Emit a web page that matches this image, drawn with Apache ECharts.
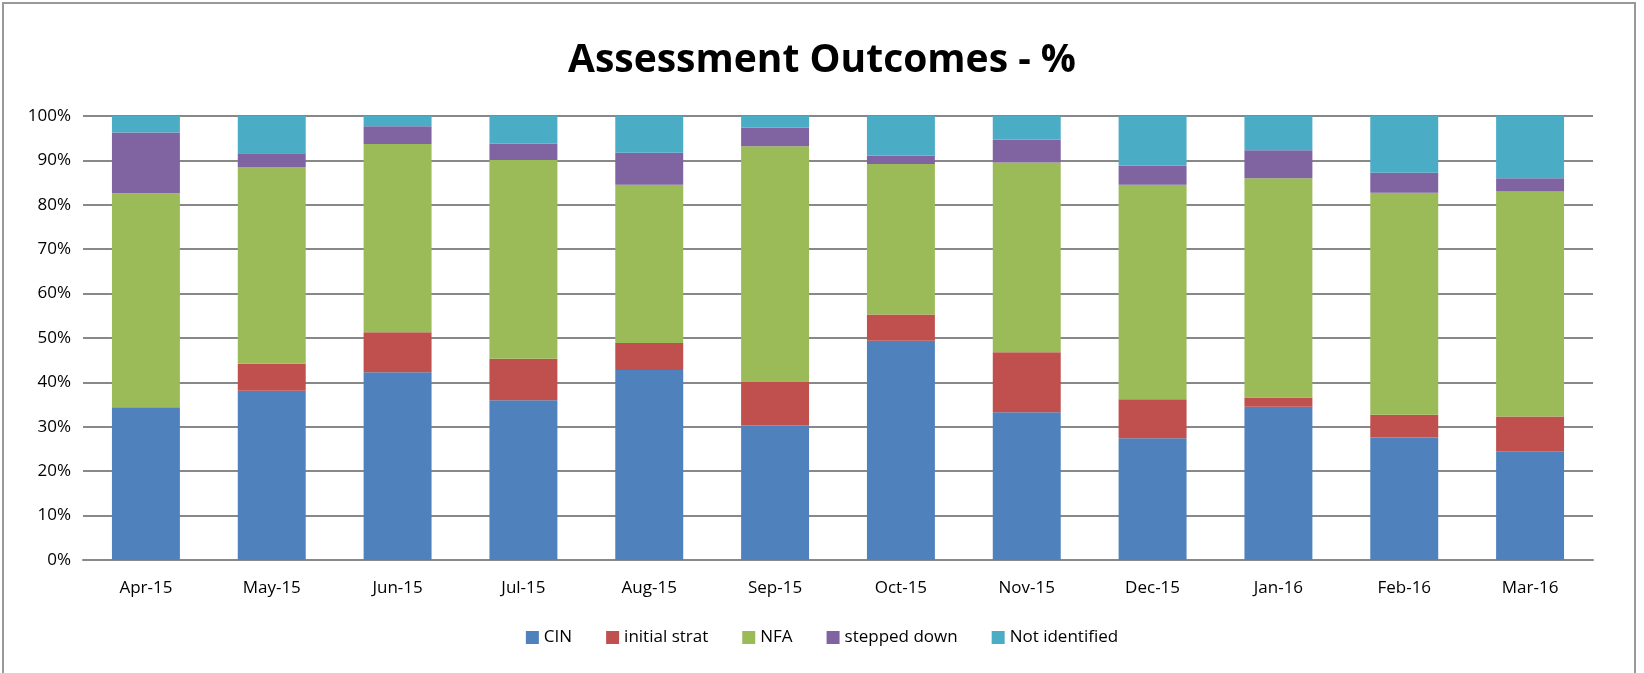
<!DOCTYPE html>
<html>
<head>
<meta charset="utf-8">
<script src="https://cdn.jsdelivr.net/npm/echarts@6/dist/echarts.min.js"></script>
<style>
html, body { margin: 0; padding: 0; background: #fff; }
#container { width: 1644px; height: 673px; }
</style>
</head>
<body>
<div id="container"></div>
<script>
var months = ['Apr-15', 'May-15', 'Jun-15', 'Jul-15', 'Aug-15', 'Sep-15', 'Oct-15', 'Nov-15', 'Dec-15', 'Jan-16', 'Feb-16', 'Mar-16'];
var cin = [34.4, 38.1, 42.3, 36.0, 42.8, 30.3, 49.4, 33.3, 27.4, 34.5, 27.6, 24.5];
var initialStrat = [0, 6.1, 9.0, 9.3, 6.1, 9.8, 5.9, 13.5, 8.8, 2.1, 5.1, 7.8];
var nfa = [48.2, 44.3, 42.4, 44.8, 35.6, 53.1, 33.9, 42.7, 48.3, 49.4, 50.0, 50.7];
var steppedDown = [13.7, 3.1, 4.0, 3.7, 7.2, 4.2, 1.9, 5.2, 4.3, 6.3, 4.5, 3.0];
var notIdentified = [3.7, 8.4, 2.3, 6.2, 8.3, 2.6, 8.9, 5.3, 11.2, 7.7, 12.8, 14.0];

var names = ['CIN', 'initial strat', 'NFA', 'stepped down', 'Not identified'];
var colors = ['#4F81BD', '#C0504D', '#9BBB59', '#8064A2', '#4BACC6'];
var values = [cin, initialStrat, nfa, steppedDown, notIdentified];

var dom = document.getElementById('container');
var myChart = echarts.init(dom);
var font = '"Open Sans", "Liberation Sans", sans-serif';

var series = [];
for (var i = 0; i < names.length; i++) {
	series.push({
		name: names[i],
		type: 'bar',
		stack: 'total',
		barWidth: '54%',
		itemStyle: { color: colors[i] },
		data: values[i]
	});
}

var option = {
	animation: false,
	color: colors,
	title: {
		text: 'Assessment Outcomes - %',
		left: 'center',
		top: 36,
		textStyle: { fontFamily: font, fontSize: 39, fontWeight: 'bold', color: '#000' }
	},
	graphic: [{
		type: 'rect',
		shape: { x: 3, y: 3, width: 1632, height: 690 },
		style: { fill: 'none', stroke: '#999', lineWidth: 2 },
		silent: true
	}],
	legend: {
		bottom: 22,
		left: 'center',
		itemWidth: 13,
		itemHeight: 13,
		itemGap: 34,
		icon: 'rect',
		textStyle: { fontFamily: font, fontSize: 17, color: '#000' },
		data: names
	},
	grid: { left: 83, right: 51, top: 116, bottom: 113 },
	xAxis: {
		type: 'category',
		data: months,
		axisLine: { lineStyle: { color: '#888', width: 2 } },
		axisTick: { show: false },
		axisLabel: { fontFamily: font, fontSize: 17, color: '#000', margin: 20 }
	},
	yAxis: {
		type: 'value',
		min: 0,
		max: 100,
		interval: 10,
		axisLine: { show: false },
		axisTick: { show: false },
		axisLabel: { fontFamily: font, fontSize: 17, color: '#000', margin: 12, formatter: '{value}%' },
		splitLine: { lineStyle: { color: '#888', width: 2 } }
	},
	series: series
};

myChart.setOption(option, true);
</script>
</body>
</html>
